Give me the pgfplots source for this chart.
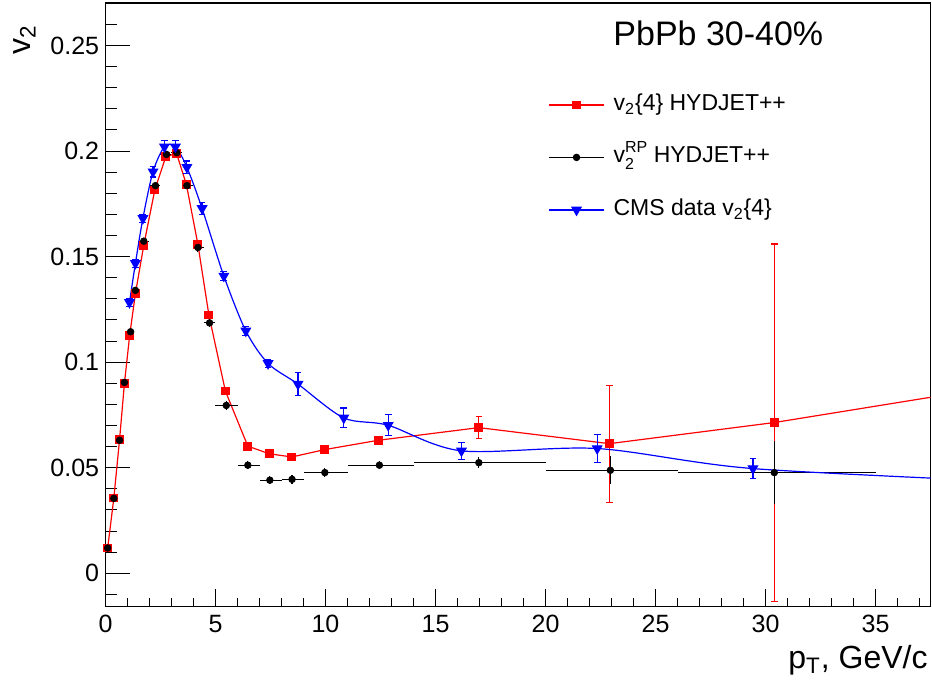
\documentclass[border=0pt]{standalone}
\usepackage{fontspec}
\setmainfont{Liberation Sans}
\usepackage{pgfplots}
\pgfplotsset{compat=1.18}
\usepackage{pgfplotstable}

\pgfplotstableread{
x y ey
0.10 0.0120 0
0.38 0.0357 0
0.64 0.0634 0
0.86 0.0899 0
1.10 0.1128 0
1.36 0.1325 0
1.74 0.1554 0
2.24 0.1815 0
2.74 0.1973 0
3.23 0.1989 0
3.68 0.1840 0
4.20 0.1558 0
4.70 0.1223 0
5.45 0.0863 0
6.47 0.0602 0
7.45 0.0566 0
8.47 0.0551 0
9.97 0.0586 0
12.40 0.0630 0
16.97 0.0690 0.0053
22.90 0.0614 0.0277
30.40 0.0714 0.0846
45.00 0.0960 0
}\redtab

\pgfplotstableread{
x y exm exp ey
0.10 0.0120 0.10 0.10 0.001
0.38 0.0355 0.10 0.12 0.001
0.64 0.0630 0.14 0.11 0.001
0.86 0.0904 0.11 0.14 0.001
1.14 0.1144 0.14 0.11 0.001
1.36 0.1340 0.11 0.14 0.001
1.74 0.1573 0.24 0.26 0.0015
2.27 0.1836 0.27 0.23 0.0015
2.77 0.1984 0.27 0.23 0.0015
3.24 0.1992 0.24 0.26 0.0015
3.70 0.1836 0.20 0.30 0.0015
4.20 0.1543 0.20 0.30 0.002
4.73 0.1186 0.23 0.27 0.002
5.49 0.0795 0.49 0.51 0.002
6.47 0.0512 0.47 0.53 0.002
7.47 0.0441 0.47 0.53 0.002
8.48 0.0445 0.48 0.52 0.002
9.97 0.0477 0.97 1.03 0.002
12.45 0.0512 1.45 1.55 0.002
16.97 0.0524 2.97 3.03 0.0027
22.95 0.0488 2.95 3.05 0.0066
30.40 0.0477 4.40 4.60 0.015
}\blacktab

\pgfplotstableread{
x y ey
1.09 0.1283 0.002
1.36 0.1468 0.002
1.70 0.1681 0.002
2.16 0.1902 0.0025
2.68 0.2020 0.003
3.18 0.2020 0.003
3.70 0.1923 0.003
4.39 0.1728 0.003
5.38 0.1408 0.002
6.38 0.1148 0.002
7.39 0.0994 0.002
8.75 0.0896 0.0054
10.83 0.0736 0.0047
12.85 0.0701 0.0050
16.18 0.0580 0.0040
22.35 0.0591 0.0065
29.43 0.0496 0.0047
42.00 0.0430 0
}\bluetab

\begin{document}
\begin{tikzpicture}
\begin{axis}[
  scale only axis, width=412.5pt, height=301.85pt,
  xmin=0, xmax=37.5, ymin=-0.01582, ymax=0.2701,
  axis line style={line width=0.6pt},
  tick align=inside, tick pos=left,
  xtick={0,5,10,15,20,25,30,35}, xticklabels={0,5,10,15,20,25,30,35},
  minor xtick={1,2,3,4,6,7,8,9,11,12,13,14,16,17,18,19,21,22,23,24,26,27,28,29,31,32,33,34,36,37},
  ytick={0,0.05,0.1,0.15,0.2,0.25}, yticklabels={0,0.05,0.1,0.15,0.2,0.25},
  minor ytick={-0.01,0.01,0.02,0.03,0.04,0.06,0.07,0.08,0.09,0.11,0.12,0.13,0.14,0.16,0.17,0.18,0.19,0.21,0.22,0.23,0.24,0.26,0.27},
  major tick length=12pt, minor tick length=6pt,
  major x tick style={/pgfplots/major tick length=9pt},
  minor x tick style={/pgfplots/minor tick length=4.5pt},
  tick style={black, line width=0.5pt},
  ticklabel style={font=\fontsize{12.5}{15}\selectfont, inner sep=0pt},
  xticklabel style={yshift=-4.2pt},
  yticklabel style={xshift=-3pt},
  xlabel={p\textsubscript{T}, GeV/c},
  every axis x label/.style={at={(axis description cs:0.997,-0.0634)}, anchor=north east, inner sep=0pt, font=\fontsize{16}{19}\selectfont},
  ylabel={v\textsubscript{2}},
  every axis y label/.style={at={(axis description cs:-0.1121,0.9636)}, rotate=90, anchor=north east, inner sep=0pt, font=\fontsize{16}{19}\selectfont},
  legend image code/.code={\draw[mark repeat=2,mark phase=2,#1,sharp plot] plot coordinates {(0pt,0pt) (13.75pt,0pt) (27.5pt,0pt)};},
  legend cell align=left,
  legend style={at={(axis description cs:0.5364,0.8509)}, anchor=north west, draw=none, fill=none, inner sep=0pt,
    font=\fontsize{11.5}{13}\selectfont, row sep=14.75pt, column sep=4.5pt,
    nodes={inner sep=0pt, text height=8.5pt, text depth=3pt}},
]
\addplot[red, line width=0.6pt, mark=square*, mark size=1.9pt, mark options={solid, fill=red, draw=red},
  error bars/.cd, y dir=both, y explicit, error bar style={line width=0.6pt, red},
  error mark options={rotate=90, mark size=1.6pt, line width=0.6pt, red}]
  table[x=x, y=y, y error=ey]{\redtab};
\addlegendentry{v\textsubscript{2}\{4\} HYDJET++}
\addplot[black, only marks, mark=*, mark size=1.65pt, mark options={solid, fill=black},
  error bars/.cd, x dir=both, x explicit, y dir=both, y explicit, error mark=none,
  error bar style={line width=0.6pt, black}]
  table[x=x, y=y, x error plus=exp, x error minus=exm, y error=ey]{\blacktab};
\addlegendentry{v\makebox[0pt][l]{\raisebox{-0.28em}{\fontsize{8}{9}\selectfont 2}}\raisebox{0.45em}{\fontsize{8}{9}\selectfont RP} HYDJET++}
\addplot[blue, smooth, tension=0.5, line width=0.6pt, mark=triangle*, mark size=2.6pt, mark options={solid, fill=blue, rotate=180},
  error bars/.cd, y dir=both, y explicit, error bar style={line width=0.6pt, blue},
  error mark options={rotate=90, mark size=1.7pt, line width=0.6pt, blue}]
  table[x=x, y=y, y error=ey]{\bluetab};
\addlegendentry{CMS data v\textsubscript{2}\{4\}}
\node[anchor=base west, inner sep=0pt, font=\fontsize{17}{20}\selectfont] at (axis description cs:0.6152,0.9288) {PbPb 30-40\%};
\end{axis}
\pgfresetboundingbox
\path[use as bounding box] (-52.75pt,-37.65pt) rectangle (413.25pt,303.35pt);
\end{tikzpicture}
\end{document}
